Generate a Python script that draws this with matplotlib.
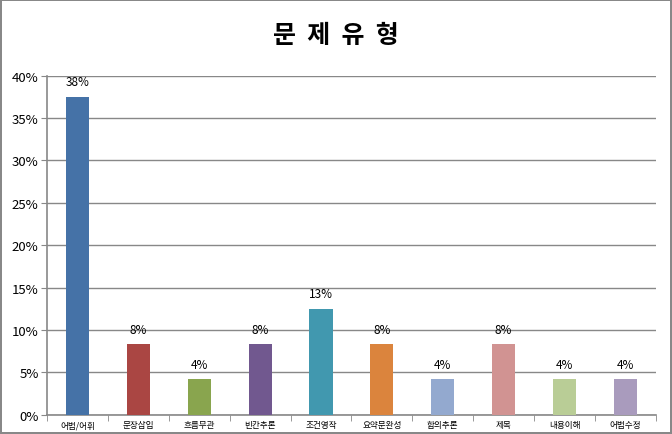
import matplotlib
matplotlib.use('Agg')
import matplotlib.pyplot as plt
from matplotlib.ticker import PercentFormatter

plt.rcParams['font.family'] = ['Noto Sans CJK KR', 'DejaVu Sans']

# 문제 유형별 비율 (24문항 기준)
categories = ['어법/어휘', '문장삽입', '흐름무관', '빈칸추론', '조건영작',
              '요약문완성', '함의추론', '제목', '내용이해', '어법수정']
shares = [37.5, 8.33, 4.17, 8.33, 12.5, 8.33, 4.17, 8.33, 4.17, 4.17]
labels = ['38%', '8%', '4%', '8%', '13%', '8%', '4%', '8%', '4%', '4%']
colors = ['#4572A7', '#AA4643', '#89A54E', '#71588F', '#4198AF',
          '#DB843D', '#93A9CF', '#D19392', '#B9CD96', '#A99BBD']

fig = plt.figure(figsize=(6.72, 4.35), dpi=100)
fig.patch.set_edgecolor('#888888')
fig.patch.set_linewidth(1.5)
ax = fig.add_axes([0.0699, 0.0444, 0.9061, 0.7796])

x = range(len(categories))
bars = ax.bar(x, shares, width=0.38, color=colors, zorder=3)
for b, lab in zip(bars, labels):
    ax.text(b.get_x() + b.get_width() / 2, b.get_height() + 1.0, lab,
            ha='center', va='bottom', fontsize=8.5)

ax.set_xlim(-0.5, len(categories) - 0.5)
ax.set_ylim(0, 40)
ax.set_yticks(range(0, 41, 5))
ax.yaxis.set_major_formatter(PercentFormatter(decimals=0))
ax.set_xticks(list(x))
ax.set_xticklabels(categories, fontsize=6.2)
ax.set_xticks([i - 0.5 for i in range(len(categories) + 1)], minor=True)
ax.tick_params(axis='x', which='major', length=0, pad=4)
ax.tick_params(axis='x', which='minor', length=4, color='#888888')
ax.tick_params(axis='y', length=4, color='#888888', labelsize=9.5, pad=2)

ax.grid(axis='y', color='#888888', linewidth=1, zorder=0)
for s in ['top', 'right']:
    ax.spines[s].set_visible(False)
for s in ['left', 'bottom']:
    ax.spines[s].set_color('#888888')
    ax.spines[s].set_linewidth(1.2)

fig.text(0.5, 0.917, '문  제  유  형', ha='center', va='center',
         fontsize=18, fontweight='bold')

fig.savefig('out.png', dpi=100, edgecolor=fig.get_edgecolor())
